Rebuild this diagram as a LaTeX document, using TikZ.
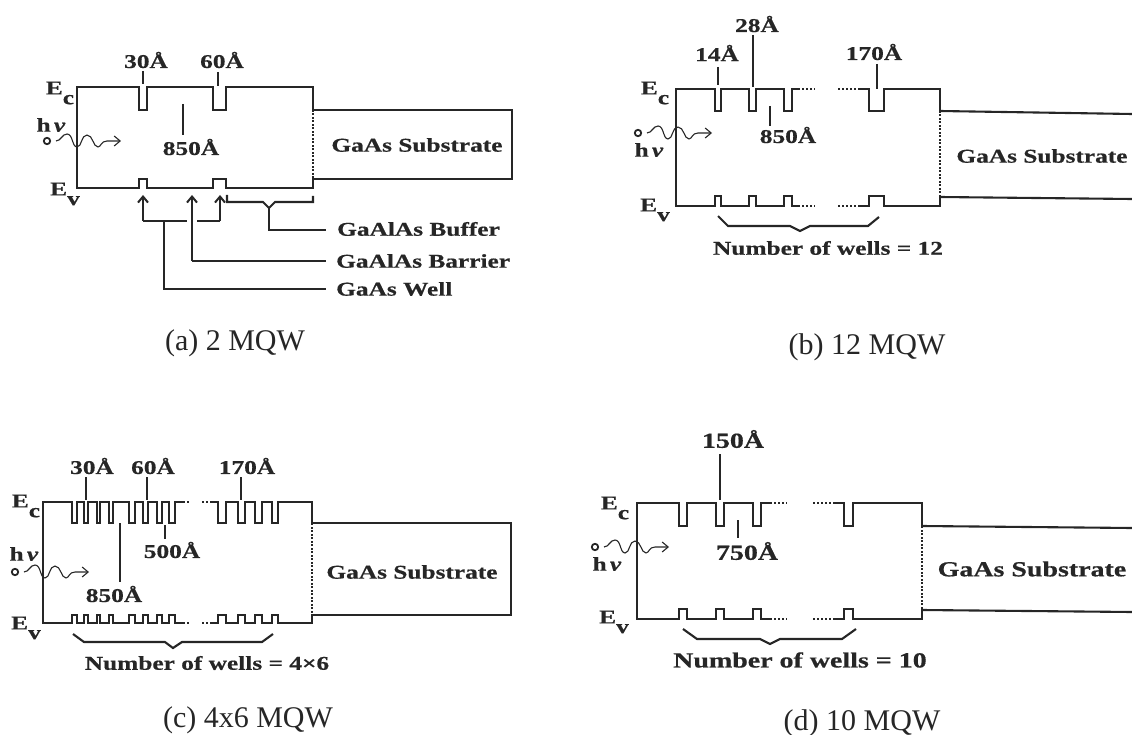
\documentclass[tikz,border=0pt]{standalone}
\usepackage{fontspec}
\setmainfont{Liberation Serif}
\newfontfamily\labfont[FakeStretch=1.3,FakeBold=.6]{Liberation Serif}
\usetikzlibrary{arrows.meta}
\tikzset{
  band/.style={line width=2.1pt,line join=miter,draw=black!85},
  leader/.style={line width=1.5pt,draw=black!85},
  dots/.style={line width=2.1pt,draw=black!85,dash pattern=on 2pt off 2pt},
  sublayer/.style={line width=2.2pt,dash pattern=on 1.5pt off 2pt},
  lab/.style={font=\labfont\bfseries\fontsize{19.5}{19.5}\selectfont,inner sep=0pt,text=black!85},
  labd/.style={font=\labfont\bfseries\fontsize{21.5}{21.5}\selectfont,inner sep=0pt,text=black!85},
  captext/.style={font=\fontsize{30}{30}\selectfont,inner sep=0pt,text=black!85},
  photonpath/.style={line width=1.1pt,draw=black!85},
  upper/.style={line width=2pt,draw=black!85,-{Straight Barb[length=6pt,width=10pt]}}
}
\newcommand{\Ene}[1]{E\raisebox{-.5em}{#1}}
\newcommand{\Hnu}{h\,\textit{ν}}
% photon at (\#1,\#2): source circle, wave, arrow
\newcommand{\Photon}[2]{
  \draw[line width=1.8pt,draw=black!85] (#1,#2) circle (3.2);
  \draw[photonpath,-{Straight Barb[length=6pt,width=10pt]}] (#1+9,#2) .. controls (#1+14,#2) and (#1+15,#2-7) .. (#1+20,#2-7)
    .. controls (#1+26,#2-7) and (#1+25,#2+6) .. (#1+30,#2+6)
    .. controls (#1+35,#2+6) and (#1+34,#2-6) .. (#1+40,#2-6)
    .. controls (#1+46,#2-6) and (#1+46,#2+6) .. (#1+51,#2+6)
    .. controls (#1+54,#2+6) and (#1+54,#2) .. (#1+60,#2) -- (#1+74,#2);
}
\begin{document}
\begin{tikzpicture}[x=1pt,y=-1pt]
\useasboundingbox (0,0) rectangle (1132,735);

%% (a)
\draw[band] (77,87) -- (139,87) -- (139,110) -- (147,110) -- (147,87) -- (213,87) -- (213,110) -- (226,110) -- (226,87) -- (313,87) -- (313,188)
  -- (226,188) -- (226,179) -- (213,179) -- (213,188) -- (147,188) -- (147,179) -- (139,179) -- (139,188) -- (77,188) -- cycle;
\draw[band] (313,110) -- (512,110) -- (512,179) -- (313,179);
\draw[sublayer,white] (313,112) -- (313,177);
\node[lab] (enca) at (60,93) {\Ene{c}};
\node[lab] (enva) at (65,194) {\Ene{v}};
\node[lab] (hnua) at (51,125) {\Hnu};
\Photon{47}{141}
\node[lab] (wella) at (146,60) {30Å};
\node[lab] (wellb) at (222,60) {60Å};
\node[lab] (barra) at (191,147) {850Å};
\draw[leader] (143,71) -- (143,84);
\draw[leader] (218,72) -- (218,86);
\draw[leader] (183,104) -- (183,135);
\node[lab] (subsa) at (417,145) {GaAs Substrate};
\node[lab,anchor=west] (bufa) at (337,229) {GaAlAs Buffer};
\node[lab,anchor=west] (bara) at (336,261) {GaAlAs Barrier};
\node[lab,anchor=west] (gwea) at (336,289) {GaAs Well};
\draw[upper] (143,221) -- (143,195);
\draw[upper] (220,221) -- (220,195);
\draw[leader,line width=2pt] (143,221) -- (187,221) (197,221) -- (220,221);
\draw[upper] (192,261) -- (192,195);
\draw[band] (192,261) -- (326,261);
\draw[band] (164,221) -- (164,289) -- (326,289);
\draw[band] (227,195) -- (227,202) -- (263,202) -- (269,208) -- (275,202) -- (313,202) -- (313,196);
\draw[band] (269,208) -- (269,230) -- (326,230);
\node[captext] (capa) at (235,343) {(a) 2 MQW};

%% (b)
\draw[band] (798,89) -- (792,89) -- (792,111) -- (784,111) -- (784,89) -- (756,89) -- (756,111) -- (749,111) -- (749,89) -- (721,89) -- (721,111) -- (715,111) -- (715,89) -- (676,89)
  -- (676,206) -- (715,206) -- (715,196) -- (721,196) -- (721,206) -- (749,206) -- (749,196) -- (756,196) -- (756,206) -- (784,206) -- (784,196) -- (792,196) -- (792,206) -- (798,206);
\draw[band] (860,89) -- (869,89) -- (869,111) -- (884,111) -- (884,89) -- (940,89) -- (940,206) -- (884,206) -- (884,196) -- (869,196) -- (869,206) -- (860,206);
\draw[dots] (798,89) -- (815,89) (838,89) -- (860,89) (798,206) -- (815,206) (838,206) -- (860,206);
\draw[band] (940,111) -- (1132,114) (940,197) -- (1132,199);
\draw[sublayer,white] (940,113) -- (940,195);
\node[lab] (encb) at (655,93) {\Ene{c}};
\node[lab] (envb) at (655,210) {\Ene{v}};
\node[lab] (hnub) at (649,150) {\Hnu};
\Photon{638}{133}
\node[lab] (wellc) at (717,53) {14Å};
\node[lab] (welld) at (757,24) {28Å};
\node[lab] (welle) at (874,52) {170Å};
\node[lab] (barrb) at (788,135) {850Å};
\draw[leader] (718,67) -- (718,85);
\draw[leader] (753,35) -- (753,87);
\draw[leader] (877,64) -- (877,89);
\draw[leader] (770,106) -- (770,126);
\draw[band] (718,216) -- (728,226) -- (790,226) -- (800,231) -- (810,226) -- (868,226) -- (879,217);
\node[lab] (numb) at (828,248) {Number of wells = 12};
\node[lab] (subsb) at (1042,156) {GaAs Substrate};
\node[captext] (capb) at (867,347) {(b) 12 MQW};

%% (c)
\draw[band] (183,502) -- (177,502)
  \foreach \l/\r in {175/169,162/157,148/143,135/129,113/109,100/97,88/84,77/72} { -- (\l,502) -- (\l,523) -- (\r,523) -- (\r,502) }
  -- (43,502) -- (43,623)
  \foreach \l/\r in {72/77,84/88,97/100,109/113,129/135,143/148,157/162,169/175} { -- (\l,623) -- (\l,615) -- (\r,615) -- (\r,623) }
  -- (183,623);
\draw[band] (212,502) -- (218,502)
  \foreach \l/\r in {218/226,238/245,255/262,272/278} { -- (\l,502) -- (\l,523) -- (\r,523) -- (\r,502) }
  -- (312,502) -- (312,623)
  \foreach \l/\r in {278/272,262/255,245/238,226/218} { -- (\l,623) -- (\l,615) -- (\r,615) -- (\r,623) }
  -- (212,623);
\draw[dots] (183,502) -- (190,502) (202,502) -- (212,502) (183,623) -- (190,623) (202,623) -- (212,623);
\draw[band] (312,523) -- (511,523) -- (511,615) -- (312,615);
\draw[sublayer,white] (312,525) -- (312,613);
\node[lab] (encc) at (26,506) {\Ene{c}};
\node[lab] (envc) at (26,628) {\Ene{v}};
\node[lab] (hnuc) at (24,554) {\Hnu};
\Photon{15}{572}
\node[lab] (wellf) at (92,466) {30Å};
\node[lab] (wellg) at (153,466) {60Å};
\node[lab] (wellh) at (247,466) {170Å};
\node[lab] (barrc) at (172,550) {500Å};
\node[lab] (barrd) at (114,594) {850Å};
\draw[leader] (86,477) -- (86,500);
\draw[leader] (147,477) -- (147,500);
\draw[leader] (241,477) -- (241,500);
\draw[leader] (165,525) -- (165,539);
\draw[leader] (120,523) -- (120,582);
\draw[band] (73,634) -- (84,642) -- (165,642) -- (173,648) -- (182,642) -- (262,642) -- (273,634);
\node[lab] (numc) at (207,663) {Number of wells = 4×6};
\node[lab] (subsc) at (412,572) {GaAs Substrate};
\node[captext] (capc) at (248,720) {(c) 4x6 MQW};

%% (d)
\draw[band] (770,503) -- (761,503) -- (761,526) -- (753,526) -- (753,503) -- (724,503) -- (724,526) -- (716,526) -- (716,503) -- (687,503) -- (687,526) -- (679,526) -- (679,503) -- (637,503)
  -- (637,619) -- (679,619) -- (679,609) -- (687,609) -- (687,619) -- (716,619) -- (716,609) -- (724,609) -- (724,619) -- (753,619) -- (753,609) -- (761,609) -- (761,619) -- (770,619);
\draw[band] (835,503) -- (844,503) -- (844,526) -- (853,526) -- (853,503) -- (922,503) -- (922,619) -- (853,619) -- (853,609) -- (844,609) -- (844,619) -- (835,619);
\draw[dots] (770,503) -- (787,503) (813,503) -- (835,503) (770,619) -- (787,619) (813,619) -- (835,619);
\draw[band] (922,526) -- (1132,528) (922,610) -- (1132,612);
\draw[sublayer,white] (922,528) -- (922,608);
\node[lab] (encd) at (615,508) {\Ene{c}};
\node[lab] (envd) at (614,622) {\Ene{v}};
\node[lab] (hnud) at (607,564) {\Hnu};
\Photon{595}{547}
\node[labd] (welli) at (733,439) {150Å};
\node[labd] (barre) at (747,551) {750Å};
\draw[leader] (720,454) -- (720,500);
\draw[leader] (738,520) -- (738,538);
\draw[band] (683,629) -- (697,639) -- (760,639) -- (770,644) -- (780,639) -- (842,639) -- (856,629);
\node[labd] (numd) at (800,660) {Number of wells = 10};
\node[labd] (subsd) at (1032,569) {GaAs Substrate};
\node[captext] (capd) at (862,723) {(d) 10 MQW};
\end{tikzpicture}
\end{document}
